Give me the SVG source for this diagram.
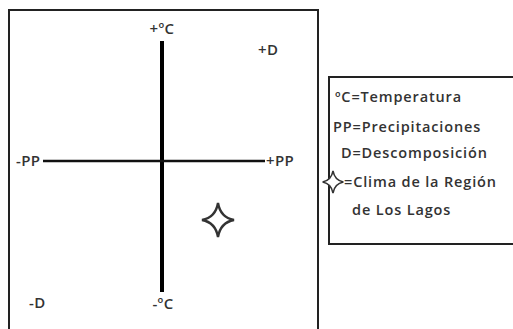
<svg xmlns="http://www.w3.org/2000/svg" width="513" height="329" viewBox="0 0 513 329">
<defs>
<style>
.lbl{font-family:"Open Sans","Liberation Sans",sans-serif;font-size:15px;font-weight:600;fill:#333;letter-spacing:0.4px;}
.leg{font-family:"Open Sans","Liberation Sans",sans-serif;font-size:14.5px;font-weight:600;fill:#333;letter-spacing:0.85px;}
.box{fill:#fff;stroke:#222;stroke-width:2;}
.star{fill:#fff;stroke:#333;stroke-width:2.4;stroke-linejoin:miter;}
</style>
<path id="starShape" d="M0,-17 Q2.5,-2.5 16,0 Q2.5,2.5 0,17 Q-2.5,2.5 -16,0 Q-2.5,-2.5 0,-17 Z"/>
</defs>
<rect width="513" height="329" fill="#fff"/>
<g id="frame">
<rect class="box" x="9" y="10" width="309" height="330"/>
</g>
<g id="connectors">
<line x1="162" y1="41" x2="162" y2="292" stroke="#000" stroke-width="4"/>
<line x1="43" y1="161" x2="265" y2="161" stroke="#111" stroke-width="2.5"/>
</g>
<g id="node-plus-temp"><text class="lbl" x="162" y="34" text-anchor="middle">+ºC</text></g>
<g id="node-minus-temp"><text class="lbl" x="163" y="309" text-anchor="middle">-ºC</text></g>
<g id="node-minus-pp"><text class="lbl" x="16" y="166">-PP</text></g>
<g id="node-plus-pp"><text class="lbl" x="266" y="166">+PP</text></g>
<g id="node-plus-d"><text class="lbl" x="258" y="55">+D</text></g>
<g id="node-minus-d"><text class="lbl" x="29" y="308">-D</text></g>
<g id="node-star"><use href="#starShape" class="star" transform="translate(218,220)"/></g>
<g id="legend">
<rect class="box" x="329" y="77" width="200" height="167"/>
<text class="leg" x="335" y="102">ºC=Temperatura</text>
<text class="leg" x="333" y="132">PP=Precipitaciones</text>
<text class="leg" x="341" y="158">D=Descomposición</text>
<use href="#starShape" class="star" transform="translate(333,182) scale(0.65)"/>
<text class="leg" x="344" y="187">=Clima de la Región</text>
<text class="leg" x="352" y="215">de Los Lagos</text>
</g>
</svg>
